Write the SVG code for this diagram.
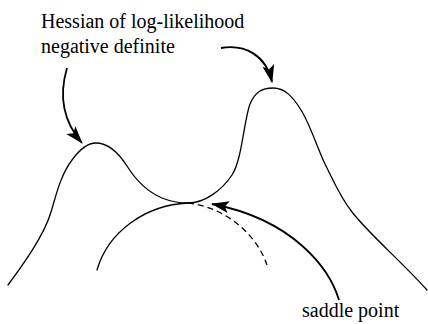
<svg xmlns="http://www.w3.org/2000/svg" width="428" height="324" viewBox="0 0 428 324">
<defs>
<style>
.lbl{font-family:"Liberation Serif","Times New Roman",serif;font-size:20px;fill:#000}
.curve{fill:none;stroke:#000;stroke-width:1.3;stroke-linecap:round}
.dash{fill:none;stroke:#000;stroke-width:1.3;stroke-dasharray:6,4}
.arr{fill:none;stroke:#000;stroke-width:1.8;marker-end:url(#ah)}
</style>
<marker id="ah" markerUnits="userSpaceOnUse" markerWidth="18" markerHeight="14" viewBox="0 0 18 12" refX="17" refY="6" orient="auto">
<path d="M0,0 L18,6 L0,12 L4,6 z" fill="#000"/>
</marker>
</defs>
<rect width="428" height="324" fill="#fff"/>
<g id="surface">
<path class="curve" d="M8,285 C22,266 44,236 51,212 C56,196 60,176 72,160 C80,149 87,143 96,143 C108,143 118,152 127,166 C137,182 148,192 162,198 C172,202 180,203 188,203 C205,203 222,190 232,175 C242,160 244,120 250,104 C255,92 262,88 273,88 C285,88 293,97 301,110 C310,124 318,150 326,166 C334,182 340,197 352,212 C370,235 400,260 427,290"/>
</g>
<g id="lower-curve">
<path class="curve" d="M97,270 C108,232 145,205 188,203"/>
<path class="dash" d="M188,203 C220,206 255,230 267,265"/>
</g>
<g id="label-hessian">
<text class="lbl" x="41" y="28">Hessian of log-likelihood</text>
<text class="lbl" x="41" y="53">negative definite</text>
</g>
<g id="label-saddle">
<text class="lbl" x="302" y="317">saddle point</text>
</g>
<g id="connectors">
<path class="arr" d="M67,68 C59,95 62,120 82,143"/>
<path class="arr" d="M221,48 C245,44 266,55 272,82"/>
<path class="arr" d="M339,300 C330,270 295,220 212,204"/>
</g>
</svg>
